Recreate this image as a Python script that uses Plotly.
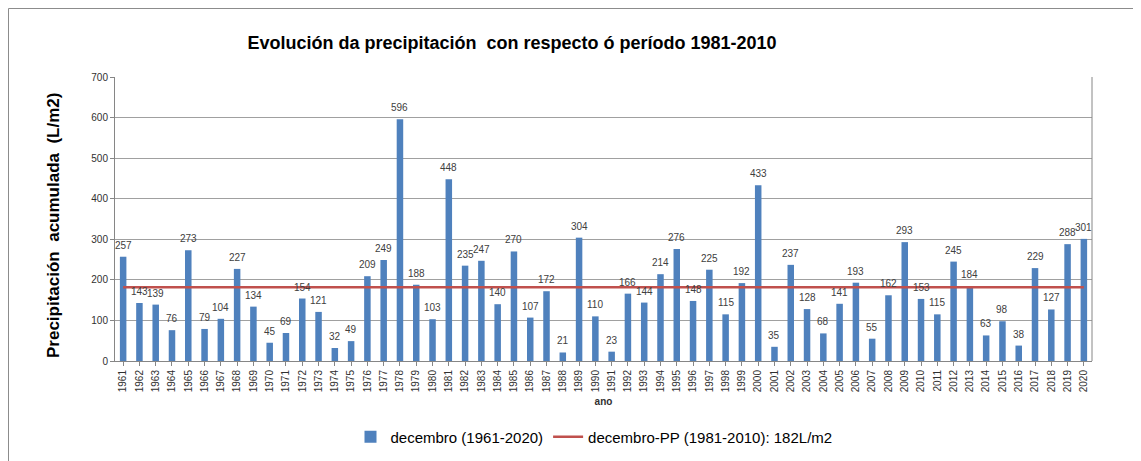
import plotly.graph_objects as go

years = [str(y) for y in range(1961, 2021)]
values = [257, 143, 139, 76, 273, 79, 104, 227, 134, 45,
          69, 154, 121, 32, 49, 209, 249, 596, 188, 103,
          448, 235, 247, 140, 270, 107, 172, 21, 304, 110,
          23, 166, 144, 214, 276, 148, 225, 115, 192, 433,
          35, 237, 128, 68, 141, 193, 55, 162, 293, 153,
          115, 245, 184, 63, 98, 38, 229, 127, 288, 301]
mean_value = 182
bar_name = "decembro (1961-2020)"
line_name = "decembro-PP (1981-2010): 182L/m2"
title_text = "Evolución da precipitación  con respecto ó período 1981-2010"
y_title = "Precipitación  acumulada  (L/m2)"
x_title = "ano"

fig = go.Figure()
fig.add_trace(go.Bar(
    x=years, y=values, name=bar_name,
    marker=dict(color="#4F81BD", line=dict(width=0)),
))
fig.add_trace(go.Scatter(
    x=years, y=[mean_value] * len(years), name=line_name,
    mode="lines", line=dict(color="#C0504D", width=2.5),
))

# category axis positions are the category indices
annotations = [
    dict(x=i, y=v, xref="x", yref="y", text=str(v), showarrow=False,
         yanchor="bottom", yshift=4,
         font=dict(family="Liberation Sans, Arial", size=10, color="#404040"))
    for i, v in enumerate(values)
]

OFF = 8  # page body margin
L, R, T, B = 115 - OFF, 1092 - OFF, 77 - OFF, 361 - OFF
W, H = 1141, 461
pw, ph = R - L, B - T

annotations.append(dict(
    x=(53 - OFF - L) / pw, y=(B - (226 - OFF)) / ph, xref="paper", yref="paper",
    text="<b>" + y_title + "</b>", textangle=-90, showarrow=False,
    xanchor="center", yanchor="middle",
    font=dict(family="Liberation Sans, Arial", size=17, color="black")))

fig.update_layout(
    width=W, height=H,
    margin=dict(l=L, r=W - R, t=T, b=H - B, autoexpand=False),
    paper_bgcolor="white", plot_bgcolor="white",
    font=dict(family="Liberation Sans, Arial", color="#404040"),
    title=dict(text="<b>" + title_text + "</b>", x=(512 - OFF) / W, xanchor="center",
               xref="container", y=1 - (43 - OFF) / H, yanchor="middle", yref="container",
               font=dict(size=18, color="black")),
    bargap=0.6,
    showlegend=True,
    legend=dict(orientation="h", x=(594 - OFF - L) / pw, xanchor="center",
                y=(B - (437 - OFF)) / ph, yanchor="middle",
                font=dict(size=15, color="black"), itemwidth=30,
                traceorder="normal"),
    xaxis=dict(type="category", range=[-0.5, len(years) - 0.5], autorange=False,
               tickangle=-90, tickfont=dict(size=10, color="#303030"),
               showline=True, linecolor="#868686", ticks="outside", ticklen=4,
               tickcolor="#868686", showgrid=False, dtick=1,
               title=dict(text="<b>" + x_title + "</b>", font=dict(size=10, color="#303030"),
                          standoff=6),
               mirror=False),
    yaxis=dict(range=[0, 700], dtick=100, tickfont=dict(size=10, color="#303030"),
               showline=True, linecolor="#868686", ticks="outside", ticklen=4,
               tickcolor="#868686", showgrid=True, gridcolor="#A0A0A0", gridwidth=1,
               zeroline=False),
    annotations=annotations,
    shapes=[
        dict(type="rect", xref="paper", yref="paper",
             x0=(0.5 - L) / pw, x1=(1145 - L) / pw,
             y0=(B - 470) / ph, y1=(B - 0.5) / ph,
             line=dict(color="#8C8C8C", width=1), fillcolor="rgba(0,0,0,0)", layer="below"),
        dict(type="line", xref="paper", yref="paper", x0=1, x1=1, y0=0, y1=1,
             line=dict(color="#868686", width=1)),
    ],
)

fig.write_html("out.html")
